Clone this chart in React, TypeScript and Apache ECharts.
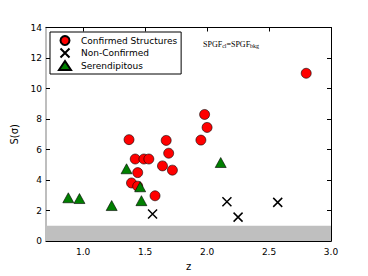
import React, { useEffect, useRef } from "react";
import * as echarts from "echarts";

const confirmedZ = [2.8, 1.98, 2.0, 1.95, 1.37, 1.67, 1.69, 1.42, 1.49, 1.53, 1.64, 1.72, 1.44, 1.39, 1.44, 1.58];
const confirmedS = [11.0, 8.3, 7.45, 6.62, 6.65, 6.6, 5.76, 5.38, 5.38, 5.38, 4.93, 4.65, 4.49, 3.81, 3.6, 2.97];
const nonConfZ = [1.56, 2.16, 2.25, 2.57];
const nonConfS = [1.78, 2.58, 1.57, 2.54];
const serendZ = [0.88, 0.97, 1.23, 1.35, 1.46, 1.47, 2.11];
const serendS = [2.84, 2.79, 2.33, 4.74, 3.56, 2.65, 5.15];
const xTicks = [1.0, 1.5, 2.0, 2.5, 3.0];
const bandRange = [0, 1];

const pairs = (xs: number[], ys: number[]) => xs.map((x, i) => [x, ys[i]]);

export default function App() {
  const ref = useRef<HTMLDivElement>(null);
  useEffect(() => {
    if (!ref.current) return;
    const chart = echarts.init(ref.current, null, { renderer: "svg" });
    const font = "DejaVu Sans";
    const xBase = {
      type: "value" as const,
      min: 0.7,
      max: 3.0,
      splitLine: { show: false },
      axisTick: { inside: true, length: 4, customValues: xTicks, lineStyle: { color: "#000" } },
      axisLine: { show: true, onZero: false, lineStyle: { color: "#000", width: 1 } },
    };
    const yBase = {
      type: "value" as const,
      min: 0,
      max: 14,
      interval: 2,
      splitLine: { show: false },
      axisTick: { inside: true, length: 4, lineStyle: { color: "#000" } },
    };
    chart.setOption({
      animation: false,
      grid: { left: 46, right: 37, top: 27.5, bottom: 28, containLabel: false },
      xAxis: [
        {
          ...xBase,
          position: "bottom",
          name: "z",
          nameLocation: "middle",
          nameGap: 18,
          nameTextStyle: { fontFamily: font, fontSize: 10, color: "#000" },
          axisLabel: {
            customValues: xTicks,
            formatter: (v: number) => v.toFixed(1),
            fontFamily: font,
            fontSize: 9,
            color: "#000",
            margin: 6,
          },
        },
        { ...xBase, position: "top", axisLabel: { show: false } },
      ],
      yAxis: [
        {
          ...yBase,
          position: "left",
          name: "S(σ)",
          nameLocation: "middle",
          nameGap: 24,
          nameTextStyle: { fontFamily: font, fontSize: 10, color: "#000" },
          axisLine: { show: true, onZero: false, lineStyle: { color: "#a8a8a8", width: 1.5 } },
          axisLabel: { fontFamily: font, fontSize: 9, color: "#000", margin: 4 },
        },
        {
          ...yBase,
          position: "right",
          axisLine: { show: true, onZero: false, lineStyle: { color: "#000", width: 1 } },
          axisLabel: { show: false },
        },
      ],
      legend: {
        orient: "vertical",
        left: 50,
        top: 32,
        padding: [3, 4, 3, 8],
        itemWidth: 12,
        itemHeight: 9,
        itemGap: 0,
        borderColor: "#000",
        borderWidth: 1,
        backgroundColor: "#fff",
        textStyle: { fontFamily: font, fontSize: 9, lineHeight: 9, color: "#000", padding: [0, 0, 0, 5] },
        data: ["Confirmed Structures", "Non-Confirmed", "Serendipitous"],
      },
      graphic: [
        {
          type: "text",
          left: 203,
          top: 40,
          style: {
            text: "{m|SPGF}{s|cl}{m|=SPGF}{s|bkg}",
            rich: {
              m: { fontFamily: "Liberation Serif", fontSize: 8, fill: "#000" },
              s: { fontFamily: "Liberation Serif", fontSize: 6, fill: "#000", padding: [4, 0, 0, 0] },
            },
          },
        },
      ],
      series: [
        {
          type: "scatter",
          name: "band",
          data: [],
          z: 1,
          silent: true,
          markArea: {
            silent: true,
            itemStyle: { color: "#bfbfbf", opacity: 1 },
            data: [[{ yAxis: bandRange[0] }, { yAxis: bandRange[1] }]],
          },
        },
        {
          type: "scatter",
          name: "Confirmed Structures",
          data: pairs(confirmedZ, confirmedS),
          symbol: "circle",
          symbolSize: 10,
          z: 3,
          itemStyle: { color: "#ff0000", borderColor: "#000", borderWidth: 0.6, opacity: 1 },
        },
        {
          type: "scatter",
          name: "Non-Confirmed",
          data: pairs(nonConfZ, nonConfS),
          symbol: "path://M0,0L10,10M10,0L0,10",
          symbolSize: 9,
          z: 3,
          itemStyle: { color: "none", borderColor: "#000", borderWidth: 1.5, opacity: 1 },
        },
        {
          type: "scatter",
          name: "Serendipitous",
          data: pairs(serendZ, serendS),
          symbol: "triangle",
          symbolSize: [11, 10],
          z: 3,
          itemStyle: { color: "#007f00", borderColor: "#000", borderWidth: 0.6, opacity: 1 },
        },
      ],
    });
    return () => chart.dispose();
  }, []);
  return (
    <div
      ref={ref}
      style={{ position: "absolute", left: 0, top: 0, width: 368, height: 276, background: "#fff" }}
    />
  );
}
